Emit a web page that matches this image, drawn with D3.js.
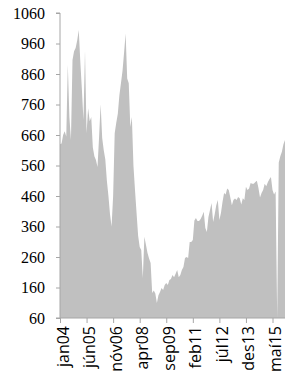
<!DOCTYPE html>
<html>
<head>
<meta charset="utf-8">
<script src="https://cdn.jsdelivr.net/npm/d3@7"></script>
<style>
  body { margin: 0; background: #fff; }
  svg { display: block; }
</style>
</head>
<body>
<svg width="285" height="374"></svg>
<script>
// monthly values, jan04 .. jan16
const values = [
  630, 632, 660, 672, 655, 890, 720, 644, 906, 935,
  945, 970, 1004, 900, 810, 709, 938, 666, 748, 705,
  719, 620, 590, 578, 555, 653, 761, 650, 610, 580,
  510, 460, 400, 360, 460, 666, 700, 730, 790, 830,
  870, 930, 993, 845, 830, 686, 719, 560, 480, 404,
  330, 293, 283, 191, 326, 300, 273, 255, 240, 142,
  150, 140, 109, 135, 145, 158, 152, 168, 175, 168,
  185, 188, 201, 194, 205, 217, 194, 201, 217, 227,
  257, 260, 257, 309, 309, 316, 380, 388, 378, 378,
  385, 395, 408, 355, 342, 391, 414, 437, 375, 400,
  430, 447, 381, 404, 440, 470, 465, 485, 480, 455,
  430, 447, 452, 447, 457, 453, 432, 453, 447, 490,
  480, 485, 503, 500, 500, 506, 510, 486, 455, 470,
  480, 500, 492, 505, 515, 522, 480, 465, 475, 60,
  570, 590, 605, 630, 644
];
const monthNames = ["jan", "feb", "mar", "apr", "maí", "jún", "júl", "ágú", "sep", "okt", "nóv", "des"];
const startYear = 2004;
const categories = values.map((v, i) =>
  monthNames[i % 12] + String((startYear + Math.floor(i / 12)) % 100).padStart(2, "0"));
const xTickIndex = [0, 17, 34, 51, 68, 85, 102, 119, 136];
const yTicks = [60, 160, 260, 360, 460, 560, 660, 760, 860, 960, 1060];

const svg = d3.select("svg");
const mLeft = 60, mRight = 285, mTop = 13, mBottom = 318;

const x = d3.scaleLinear().domain([0, values.length - 1]).range([mLeft, mRight]);
const y = d3.scaleLinear().domain([60, 1060]).range([mBottom, mTop]);

const area = d3.area()
  .x((d, i) => x(i))
  .y0(y(60))
  .y1(d => y(d));

svg.append("path")
  .datum(values)
  .attr("fill", "#c0c0c0")
  .attr("d", area);

const yAxis = svg.append("g")
  .attr("transform", `translate(${mLeft},0)`)
  .call(d3.axisLeft(y).tickValues(yTicks).tickSize(4).tickPadding(11).tickFormat(d3.format("d")));
yAxis.select(".domain").attr("stroke", "#a6a6a6").attr("d", `M-4,${y(60)}H0V${y(1060)}H-4`);
yAxis.selectAll(".tick line").attr("stroke", "#a6a6a6");
yAxis.selectAll("text")
  .attr("font-family", "'Liberation Serif', 'Times New Roman', serif")
  .attr("font-size", 16)
  .attr("fill", "#000");

const xAxis = svg.append("g")
  .attr("transform", `translate(0,${mBottom})`)
  .call(d3.axisBottom(x).tickValues(xTickIndex).tickSize(5).tickFormat(i => categories[i]));
xAxis.select(".domain").attr("stroke", "#a6a6a6").attr("d", `M${mLeft},0H${mRight}`);
xAxis.selectAll(".tick line").attr("stroke", "#a6a6a6");
xAxis.selectAll("text")
  .attr("font-family", "'Open Sans', sans-serif")
  .attr("font-size", 16)
  .attr("fill", "#000")
  .attr("text-anchor", "end")
  .attr("transform", "rotate(-90)")
  .attr("x", -8)
  .attr("y", 0)
  .attr("dy", "0.5em");
</script>
</body>
</html>
